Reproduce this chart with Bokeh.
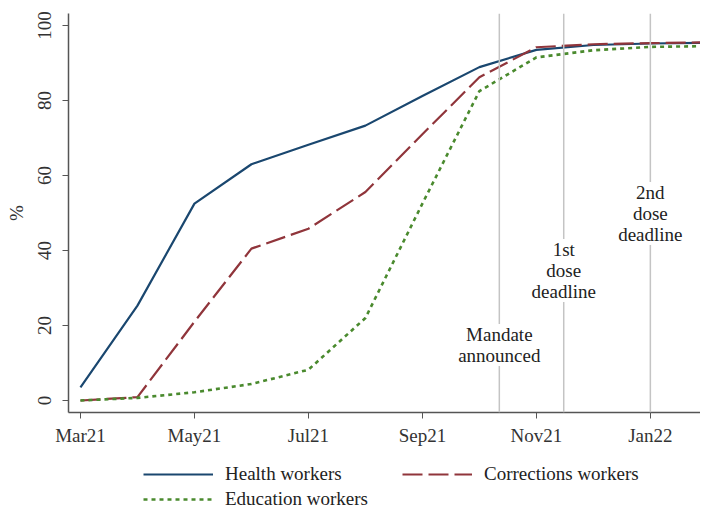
from bokeh.plotting import figure
from bokeh.models import (Legend, LegendItem, Label, Span, FixedTicker)
from bokeh.layouts import column
from bokeh.embed import file_html
from bokeh.resources import INLINE

# months since Mar 2021 (0 = Mar21 ... 11 = Feb22)
months = [0, 1, 2, 3, 4, 5, 6, 7, 8, 9, 10, 11]
health = [3.5, 25.3, 52.5, 63.0, 68.2, 73.3, 81.2, 88.9, 93.5, 94.8, 95.2, 95.4]
corrections = [0.0, 0.9, 21.0, 40.5, 45.8, 55.6, 71.0, 86.2, 94.2, 95.0, 95.3, 95.5]
education = [0.0, 0.7, 2.2, 4.4, 8.2, 22.0, 52.5, 82.5, 91.5, 93.4, 94.3, 94.5]

series_names = ["Health workers", "Corrections workers", "Education workers"]

tick_pos = [0, 2, 4, 6, 8, 10]
tick_labels = ["Mar21", "May21", "Jul21", "Sep21", "Nov21", "Jan22"]
y_ticks = [0, 20, 40, 60, 80, 100]

events_x = [7.35, 8.48, 10.0]
events_text = ["Mandate\nannounced", "1st\ndose\ndeadline", "2nd\ndose\ndeadline"]
events_label_y = [14.8, 34.7, 49.9]

FONT = "Liberation Serif"
FS = "19px"
NAVY, MAROON, GREEN = "#1a476f", "#90353b", "#4a8a2e"

p = figure(width=700, height=450, x_range=(-0.21, 10.88), y_range=(-3.2, 103.2),
           output_backend="svg", toolbar_location=None,
           min_border_left=68, min_border_right=0, min_border_top=13, min_border_bottom=38)
p.outline_line_color = None
p.xgrid.visible = False
p.ygrid.visible = False

for x in events_x:
    p.add_layout(Span(location=x, dimension="height", line_color="#c4c4c4", line_width=1.5))

p.line(months, health, line_color=NAVY, line_width=2.2)
p.line(months, corrections, line_color=MAROON, line_width=2.2, line_dash="20 6")
p.line(months, education, line_color=GREEN, line_width=2.6, line_dash="4 4")

for x, t, y in zip(events_x, events_text, events_label_y):
    p.add_layout(Label(x=x, y=y, text=t, text_align="center", text_baseline="middle",
                       text_font=FONT, text_font_size=FS, text_color="#222222",
                       text_line_height=1.0,
                       background_fill_color="white", background_fill_alpha=1.0))

xa = p.xaxis[0]
xa.ticker = FixedTicker(ticks=tick_pos)
xa.major_label_overrides = {t: l for t, l in zip(tick_pos, tick_labels)}
xa.minor_tick_line_color = None
xa.major_tick_out = 6
xa.major_tick_in = 0
xa.major_label_standoff = 6
xa.major_label_text_font = FONT
xa.major_label_text_font_size = FS
xa.major_label_text_color = "#333333"
xa.axis_line_color = "#555555"
xa.major_tick_line_color = "#555555"
xa.axis_line_width = 1.5

ya = p.yaxis[0]
ya.ticker = FixedTicker(ticks=y_ticks)
ya.minor_tick_line_color = None
ya.major_tick_out = 6
ya.major_tick_in = 0
ya.major_label_standoff = 12
ya.major_label_orientation = "vertical"
ya.major_label_text_font = FONT
ya.major_label_text_font_size = FS
ya.major_label_text_color = "#333333"
ya.axis_line_color = "#555555"
ya.major_tick_line_color = "#555555"
ya.axis_line_width = 1.5
ya.axis_label = "%"
ya.axis_label_text_font = FONT
ya.axis_label_text_font_size = FS
ya.axis_label_text_font_style = "normal"
ya.axis_label_text_color = "#333333"
ya.axis_label_standoff = 8

# legend strip below the chart
nan = float("nan")
lg = figure(width=700, height=60, x_range=(0, 1), y_range=(0, 1),
            x_axis_type=None, y_axis_type=None, output_backend="svg",
            toolbar_location=None, min_border=0)
lg.outline_line_color = None
lg.xgrid.visible = False
lg.ygrid.visible = False
d1 = lg.line([nan], [nan], line_color=NAVY, line_width=2.2)
d2 = lg.line([nan], [nan], line_color=MAROON, line_width=2.2, line_dash="20 6")
d3 = lg.line([nan], [nan], line_color=GREEN, line_width=2.6, line_dash="4 4")

legend = Legend(items=[LegendItem(label=n, renderers=[r]) for n, r in zip(series_names, [d1, d2, d3])],
                ncols=2, orientation="horizontal", location=(75, 0),
                border_line_color=None, background_fill_alpha=0,
                label_text_font=FONT, label_text_font_size=FS, label_text_color="#222222",
                glyph_width=70, glyph_height=20, label_height=20, label_standoff=12,
                label_width=174, spacing=3, padding=0, margin=0)
lg.add_layout(legend, "center")

open("out.html", "w").write(file_html(column(p, lg), INLINE))
